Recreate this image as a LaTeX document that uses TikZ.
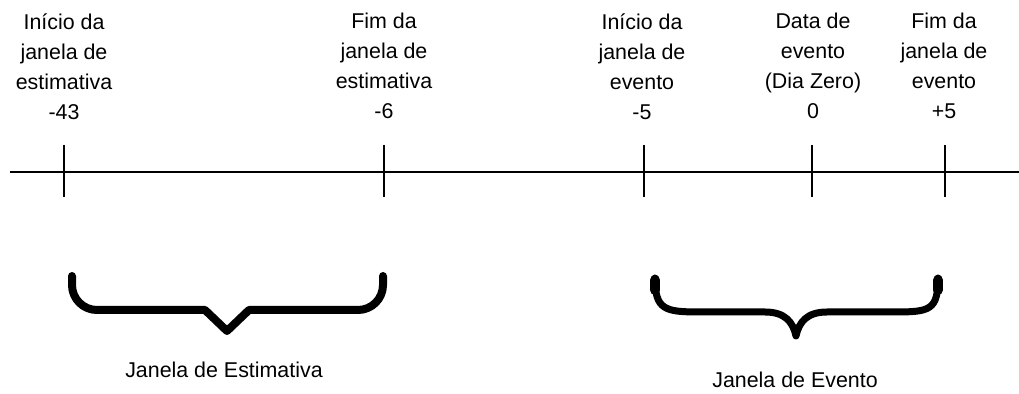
\documentclass[tikz,border=0pt]{standalone}
\usepackage{fontspec}
\setmainfont{Liberation Sans}
\begin{document}
\begin{tikzpicture}[x=0.5pt,y=-0.5pt,
    lbl/.style={align=center,inner sep=0pt,anchor=north,
        font=\fontsize{10.7}{15}\selectfont},
    axis/.style={line width=1pt},
    brace/.style={line width=4pt,line cap=round,line join=round}]
    \useasboundingbox (0,0) rectangle (1019,394);
    % time axis
    \coordinate (axl) at (10,172);
    \coordinate (axr) at (1019,172);
    \draw[axis] (axl) -- (axr);
    \foreach \n/\x in {a/64,b/384,c/644,d/812,e/945}{
        \coordinate (t\n) at (\x,172);
        \draw[axis] (\x,145) -- (\x,197);
    }
    % labels over the ticks
    \node[lbl] (la) at (64,13) {Início da\\janela de\\estimativa\\-43};
    \node[lbl] (lb) at (384,13) {Fim da\\janela de\\estimativa\\-6};
    \node[lbl] (lc) at (642,13) {Início da\\janela de\\evento\\-5};
    \node[lbl] (ld) at (813,13) {Data de\\evento\\(Dia Zero)\\0};
    \node[lbl] (le) at (944,13) {Fim da\\janela de\\evento\\+5};
    % estimation window
    \draw[brace] (72,276) -- (72,285) arc (180:90:25) -- (205,310)
        -- (227,331) -- (249,310) -- (358,310) arc (90:0:25) -- (383,276);
    \node[lbl,anchor=base] (we) at (224,378) {Janela de Estimativa};
    % event window
    \draw[brace,line width=3.5pt] (655,278) .. controls (655,310) and (665,312) .. (700,312)
        -- (765,312) .. controls (785,312) and (793,322) .. (796,336)
        .. controls (799,322) and (807,312) .. (827,312) -- (895,312)
        .. controls (930,312) and (938,310) .. (938,278);
    \draw[brace,line width=5pt] (655,280) -- (655,290);
    \draw[brace,line width=5pt] (938,280) -- (938,290);
    \node[lbl,anchor=base] (wv) at (795,388) {Janela de Evento};
\end{tikzpicture}
\end{document}
